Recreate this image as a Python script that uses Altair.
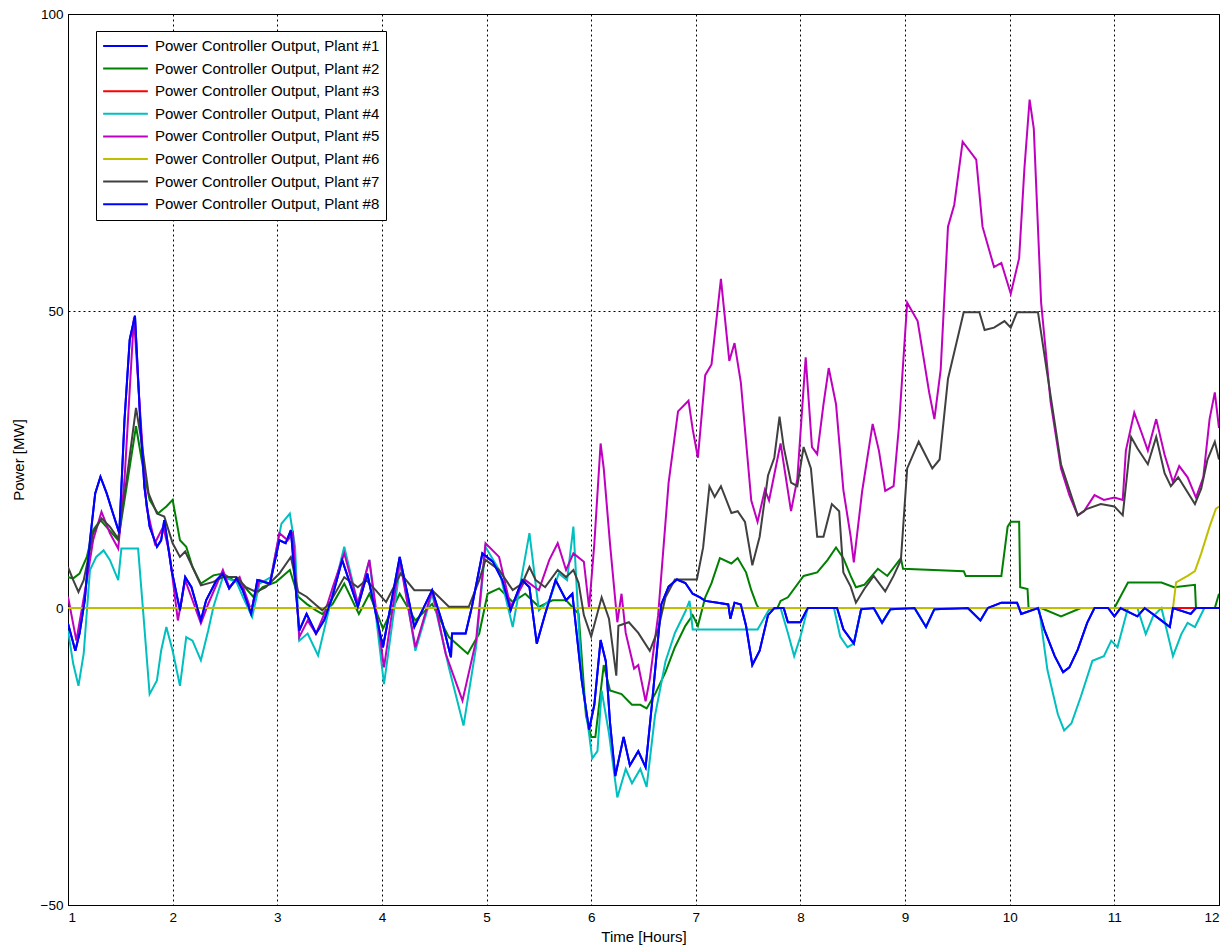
import altair as alt
import pandas as pd

# ---- data (hours, MW) ----
blue_t = [1.0, 1.07, 1.11, 1.16, 1.21, 1.26, 1.31, 1.37, 1.43, 1.49, 1.54, 1.59, 1.64, 1.69, 1.73, 1.78, 1.85, 1.89, 1.92, 1.99,
          2.07, 2.12, 2.18, 2.27, 2.32, 2.42, 2.48, 2.54, 2.61, 2.67, 2.75, 2.81, 2.93, 3.02, 3.08, 3.13, 3.21, 3.28, 3.37, 3.45,
          3.52, 3.62, 3.77, 3.86, 4.01, 4.17, 4.31, 4.48, 4.58, 4.66, 4.67, 4.80, 4.86, 4.96, 5.06, 5.15, 5.23, 5.34, 5.41, 5.48,
          5.56, 5.66, 5.76, 5.82, 5.91, 5.98, 6.03, 6.09, 6.14, 6.18, 6.23, 6.31, 6.37, 6.45, 6.52, 6.58, 6.67, 6.74, 6.82, 6.90,
          6.97, 7.04, 7.09, 7.21, 7.31, 7.33, 7.37, 7.43, 7.48, 7.54, 7.61, 7.69, 7.75, 7.84, 7.88, 8.00, 8.07, 8.35, 8.41, 8.51,
          8.58, 8.70, 8.78, 8.86, 9.09, 9.20, 9.28, 9.60, 9.72, 9.79, 9.92, 10.07, 10.11, 10.27, 10.33, 10.43, 10.51, 10.57, 10.65,
          10.74, 10.81, 10.94, 11.00, 11.06, 11.22, 11.29, 11.48, 11.53, 11.56, 11.73, 11.78, 12.0]
blue_v = [-2.6, -7.2, -4.3, 1.3, 11.4, 19.3, 22.1, 19.3, 15.9, 12.6, 31.7, 45.2, 49.2, 31.7, 20.4, 13.7, 10.3, 11.4, 14.8, 6.4,
          -0.4, 5.2, 3.5, -2.1, 1.3, 4.7, 5.8, 3.3, 5.0, 3.0, -1.0, 4.7, 4.1, 11.4, 10.9, 13.1, -3.8, -1.0, -4.3, -2.0,
          1.5, 8.1, 0.2, 5.8, -6.6, 8.6, -3.2, 3.0, -2.6, -8.3, -4.3, -4.3, 0.2, 9.2, 7.8, 4.7, -0.4, 4.7, 3.5, -6.0,
          -1.0, 4.7, 1.3, 2.4, -12.2, -20.5, -16.3, -5.4, -9.0, -19.3, -28.3, -21.7, -26.5, -24.1, -26.8, -16.3, 0.6, 3.6, 4.8, 4.2,
          2.4, 1.8, 1.2, 0.9, 0.6, -1.8, 0.9, 0.6, -3.0, -9.6, -7.2, -1.2, 0.0, 0.0, -2.4, -2.4, 0.0, 0.0, -3.6, -6.0,
          -0.2, 0.0, -2.5, -0.2, 0.0, -3.2, -0.2, 0.0, -2.1, 0.0, 0.9, 0.9, -1.0, 0.0, -3.6, -8.1, -10.8, -10.0, -7.0,
          -2.5, 0.0, 0.0, -1.4, 0.0, -1.4, 0.0, -2.5, -3.2, 0.0, -1.0, 0.0, 0.0]

green_t = [1.0, 1.05, 1.11, 1.18, 1.24, 1.31, 1.38, 1.48, 1.56, 1.65, 1.72, 1.78, 1.86, 1.94, 2.00, 2.07, 2.13, 2.19, 2.27, 2.39,
           2.48, 2.58, 2.66, 2.77, 2.86, 2.99, 3.12, 3.20, 3.28, 3.37, 3.43, 3.53, 3.64, 3.78, 3.88, 4.01, 4.17, 4.32, 4.48, 4.64,
           4.82, 4.93, 5.01, 5.12, 5.25, 5.37, 5.50, 5.63, 5.76, 5.88, 5.95, 6.00, 6.04, 6.12, 6.18, 6.29, 6.39, 6.47, 6.53, 6.61,
           6.71, 6.80, 6.90, 6.97, 7.02, 7.09, 7.15, 7.23, 7.34, 7.40, 7.48, 7.53, 7.58, 7.60, 7.78, 7.81, 7.88, 8.03, 8.16, 8.26,
           8.34, 8.41, 8.48, 8.53, 8.61, 8.74, 8.83, 8.96, 8.98, 9.56, 9.58, 9.92, 9.98, 10.01, 10.09, 10.10, 10.17, 10.18, 10.30,
           10.49, 10.68, 11.00, 11.13, 11.45, 11.57, 11.77, 11.78, 11.96, 12.0]
green_v = [5.2, 5.0, 5.8, 8.6, 13.1, 14.8, 13.4, 11.4, 20.4, 30.6, 23.3, 18.2, 15.9, 17.1, 18.2, 11.4, 10.3, 6.9, 4.1, 5.5,
           5.8, 4.7, 4.1, 1.9, 3.5, 4.4, 6.4, 1.9, 0.7, -0.4, -1.0, 0.7, 4.1, -1.0, 2.4, -3.5, 2.4, -2.1, 0.7, -4.9,
           -7.7, -4.3, 2.4, 3.3, 1.0, 2.4, 0.2, 1.3, 1.3, -1.0, -18.1, -21.7, -21.7, -9.6, -13.9, -14.5, -16.3, -16.3, -16.9, -14.5,
           -10.8, -6.6, -3.0, -1.2, -3.0, 1.8, 4.2, 8.4, 7.5, 8.4, 6.0, 3.0, 0.6, 0.0, 0.0, 1.2, 1.8, 5.4, 6.0, 8.1,
           10.2, 8.4, 5.4, 3.5, 3.9, 6.6, 5.4, 8.4, 6.6, 6.2, 5.4, 5.4, 13.7, 14.5, 14.5, 3.5, 3.2, 0.0, 0.0,
           -1.4, 0.0, 0.0, 4.3, 4.3, 3.5, 3.9, 0.0, 0.0, 2.4]

red_t = [1.0, 12.0]
red_v = [0.0, 0.0]

cyan_t = [1.0, 1.05, 1.10, 1.15, 1.21, 1.27, 1.34, 1.40, 1.48, 1.51, 1.67, 1.72, 1.78, 1.85, 1.89, 1.94, 2.00, 2.07, 2.13, 2.19,
          2.27, 2.34, 2.39, 2.48, 2.61, 2.67, 2.76, 2.83, 2.94, 3.04, 3.12, 3.17, 3.21, 3.29, 3.39, 3.50, 3.64, 3.77, 3.88, 4.02,
          4.18, 4.32, 4.48, 4.64, 4.78, 4.90, 4.99, 5.12, 5.25, 5.41, 5.50, 5.60, 5.69, 5.77, 5.83, 5.91, 5.98, 6.01, 6.06, 6.10,
          6.17, 6.25, 6.33, 6.39, 6.47, 6.53, 6.61, 6.71, 6.80, 6.90, 6.94, 6.97, 7.59, 7.70, 7.81, 7.88, 7.94, 8.00, 8.07, 8.32,
          8.38, 8.45, 8.51, 8.58, 8.70, 8.78, 8.86, 9.09, 9.20, 9.28, 9.60, 9.72, 9.79, 10.28, 10.36, 10.46, 10.52, 10.59, 10.68,
          10.79, 10.90, 10.97, 11.03, 11.13, 11.22, 11.30, 11.37, 11.45, 11.56, 11.64, 11.70, 11.77, 11.86, 12.0]
cyan_v = [-3.8, -9.4, -13.1, -7.7, 6.4, 8.6, 9.7, 8.1, 4.7, 10.0, 10.0, -1.0, -14.5, -12.2, -7.2, -3.2, -7.2, -13.1, -4.9, -5.5,
          -8.8, -3.8, 0.2, 5.2, 4.4, 1.9, -1.5, 4.1, 5.2, 14.2, 15.9, 10.3, -5.5, -4.3, -8.0, 0.2, 10.3, 0.7, 8.1, -12.8,
          7.8, -7.2, 2.4, -10.0, -19.8, -6.6, 10.3, 6.4, -3.2, 12.6, -0.4, 1.3, 5.8, 4.7, 13.7, -12.2, -21.2, -25.3, -24.1, -13.9,
          -21.1, -31.9, -27.1, -29.5, -27.1, -30.1, -18.1, -9.0, -4.2, -0.6, 1.2, -3.6, -3.6, -0.3, 0.0, -4.2, -8.1, -4.8, 0.0, 0.0,
          -4.8, -6.6, -6.0, -0.2, 0.0, -2.5, -0.2, 0.0, -3.2, -0.2, 0.0, -2.1, 0.0, 0.0, -10.4, -17.9, -20.6, -19.4, -14.9,
          -8.9, -8.1, -5.5, -6.6, 0.0, 0.0, -4.4, -1.4, 0.0, -8.1, -4.4, -2.5, -3.2, 0.0, 0.0]

magenta_t = [1.0, 1.08, 1.18, 1.24, 1.32, 1.40, 1.48, 1.54, 1.63, 1.69, 1.75, 1.83, 1.91, 1.97, 2.05, 2.12, 2.19, 2.27, 2.34, 2.48,
             2.54, 2.64, 2.75, 2.83, 2.93, 3.02, 3.10, 3.15, 3.21, 3.29, 3.37, 3.45, 3.53, 3.64, 3.77, 3.88, 4.02, 4.17, 4.32, 4.48,
             4.61, 4.77, 4.90, 4.99, 5.12, 5.23, 5.37, 5.50, 5.60, 5.68, 5.76, 5.83, 5.93, 5.98, 6.03, 6.09, 6.12, 6.18, 6.25, 6.29,
             6.33, 6.41, 6.45, 6.52, 6.56, 6.64, 6.74, 6.83, 6.93, 6.97, 7.02, 7.09, 7.15, 7.24, 7.32, 7.37, 7.43, 7.53, 7.59, 7.66,
             7.70, 7.81, 7.91, 7.97, 8.05, 8.11, 8.16, 8.22, 8.27, 8.34, 8.41, 8.48, 8.51, 8.59, 8.69, 8.75, 8.81, 8.89, 8.94, 9.02,
             9.12, 9.23, 9.28, 9.34, 9.41, 9.47, 9.55, 9.68, 9.74, 9.85, 9.92, 10.01, 10.09, 10.14, 10.19, 10.23, 10.30, 10.39, 10.49,
             10.57, 10.65, 10.71, 10.81, 10.90, 11.00, 11.08, 11.11, 11.19, 11.26, 11.32, 11.40, 11.48, 11.56, 11.62, 11.70, 11.78,
             11.85, 11.91, 11.96, 12.0]
magenta_v = [1.9, -5.5, 4.7, 11.4, 16.2, 12.6, 10.0, 21.6, 48.9, 32.8, 17.1, 10.9, 13.7, 9.2, -2.1, 4.7, 1.3, -2.6, 0.7, 6.4,
             3.5, 5.2, -0.4, 4.7, 4.1, 12.6, 11.4, 12.6, -4.9, -2.1, -4.3, -1.0, 3.5, 9.2, 0.7, 8.1, -10.0, 8.1, -6.6, 3.0,
             -7.7, -15.6, -5.5, 10.9, 8.6, 0.2, 4.7, 3.0, 8.1, 10.9, 6.4, 9.2, 7.8, 0.0, 10.8, 27.7, 23.5, 10.8, -2.4, 2.4,
             -4.2, -10.2, -9.6, -15.7, -12.0, -1.2, 21.1, 33.1, 34.9, 30.1, 25.3, 39.2, 41.0, 55.4, 41.6, 44.6, 38.0, 18.1, 14.5, 19.9,
             18.1, 27.7, 16.3, 21.7, 42.2, 27.1, 25.9, 34.3, 40.4, 34.3, 19.9, 12.0, 7.7, 19.7, 31.0, 26.5, 19.7, 20.5, 30.3, 51.4,
             48.3, 36.3, 31.8, 40.1, 64.2, 67.9, 78.5, 75.5, 64.2, 57.4, 58.1, 52.9, 58.9, 73.9, 85.6, 80.7, 51.4, 34.8, 23.5,
             19.0, 15.6, 16.3, 19.0, 18.2, 18.6, 18.2, 26.5, 32.9, 29.5, 26.5, 31.8, 25.8, 21.2, 23.9, 22.0, 18.6,
             22.0, 31.8, 36.3, 30.3]

yellow_t = [1.0, 11.56, 11.59, 11.70, 11.77, 11.83, 11.91, 11.97, 12.0]
yellow_v = [0.0, 0.0, 4.3, 5.4, 6.2, 9.2, 13.7, 16.7, 17.1]

grey_t = [1.0, 1.05, 1.10, 1.15, 1.19, 1.24, 1.32, 1.40, 1.48, 1.56, 1.65, 1.70, 1.77, 1.85, 1.92, 2.00, 2.07, 2.12, 2.19, 2.27,
          2.39, 2.48, 2.61, 2.70, 2.80, 2.89, 3.02, 3.13, 3.20, 3.28, 3.37, 3.43, 3.50, 3.64, 3.77, 3.85, 3.94, 4.04, 4.18, 4.31,
          4.48, 4.64, 4.83, 4.93, 4.99, 5.12, 5.25, 5.34, 5.41, 5.47, 5.56, 5.68, 5.76, 5.83, 5.88, 5.93, 6.00, 6.10, 6.17, 6.24,
          6.26, 6.36, 6.45, 6.56, 6.64, 6.71, 6.80, 6.93, 7.01, 7.07, 7.13, 7.18, 7.24, 7.34, 7.40, 7.47, 7.54, 7.61, 7.69, 7.75,
          7.80, 7.84, 7.91, 7.97, 8.03, 8.10, 8.16, 8.22, 8.30, 8.37, 8.41, 8.48, 8.53, 8.61, 8.70, 8.81, 8.89, 8.96, 9.02, 9.13,
          9.26, 9.33, 9.41, 9.56, 9.71, 9.76, 9.85, 9.95, 10.01, 10.07, 10.27, 10.36, 10.49, 10.65, 10.74, 10.87, 11.00, 11.08,
          11.16, 11.22, 11.32, 11.40, 11.48, 11.54, 11.61, 11.77, 11.83, 11.89, 11.96, 12.0]
grey_v = [6.9, 4.7, 2.7, 4.7, 8.1, 12.6, 15.1, 13.7, 11.7, 21.6, 33.7, 28.3, 19.3, 15.9, 15.4, 10.9, 8.6, 9.5, 6.9, 3.8,
          4.4, 5.2, 5.2, 3.5, 2.7, 3.5, 5.8, 8.6, 2.7, 1.9, 0.5, -0.4, 0.8, 5.2, 3.5, 4.7, 3.0, 1.0, 5.8, 3.0,
          3.0, 0.2, 0.2, 4.7, 8.1, 6.4, 3.0, 4.1, 6.9, 4.7, 3.5, 6.4, 5.2, 6.4, 4.2, -1.2, -4.8, 1.8, -1.8, -11.4,
          -3.0, -2.4, -4.2, -7.2, -3.6, 1.8, 4.8, 4.8, 4.8, 10.2, 20.5, 18.7, 20.5, 16.0, 16.3, 14.5, 7.2, 12.0, 22.3, 25.3,
          32.2, 27.1, 21.1, 20.5, 27.1, 23.5, 12.0, 12.0, 17.5, 16.3, 6.0, 3.6, 0.9, 3.2, 5.4, 2.8, 5.4, 8.1, 23.5, 28.0,
          23.5, 25.0, 38.6, 49.8, 49.8, 46.8, 47.2, 48.3, 47.2, 49.8, 49.8, 39.3, 24.2, 15.6, 16.7, 17.5, 17.1, 15.6,
          28.8, 26.9, 24.2, 28.8, 22.7, 20.5, 22.0, 17.5, 20.1, 25.0, 28.0, 25.0]

plant_names = [f"Power Controller Output, Plant #{i}" for i in range(1, 9)]
plant_colors = ["#0000FF", "#008000", "#FF0000", "#00BFBF", "#BF00BF", "#BFBF00", "#404040", "#0000FF"]
series = [(blue_t, blue_v), (green_t, green_v), (red_t, red_v), (cyan_t, cyan_v),
          (magenta_t, magenta_v), (yellow_t, yellow_v), (grey_t, grey_v), (blue_t, blue_v)]

rows = []
for name, (ts, vs) in zip(plant_names, series):
    for t, v in zip(ts, vs):
        rows.append({"hour": t, "power": v, "plant": name})
df = pd.DataFrame(rows)

FONT = "Liberation Sans"

chart = alt.Chart(df).mark_line(strokeWidth=2, clip=True).encode(
    x=alt.X("hour:Q",
            scale=alt.Scale(domain=[1, 12], nice=False, zero=False),
            axis=alt.Axis(values=list(range(1, 13)), format="d", title="Time [Hours]",
                          titlePadding=6, labelPadding=5)),
    y=alt.Y("power:Q",
            scale=alt.Scale(domain=[-50, 100], nice=False),
            axis=alt.Axis(values=[-50, 0, 50, 100], title="Power [MW]",
                          titlePadding=14, labelPadding=5)),
    color=alt.Color("plant:N",
                    scale=alt.Scale(domain=plant_names, range=plant_colors),
                    legend=alt.Legend(title=None, orient="none", legendX=28, legendY=17,
                                      symbolType="stroke", symbolStrokeWidth=2, symbolSize=2000,
                                      labelFontSize=15, labelFont=FONT, labelColor="black",
                                      labelLimit=0, strokeColor="black", fillColor="white",
                                      padding=6, clipHeight=18, rowPadding=4.6, labelOffset=6)),
).properties(
    width=1151, height=891,
    autosize=alt.AutoSizeParams(type="none"),
    padding={"left": 60, "top": 6, "right": 1, "bottom": 40},
).configure_view(
    stroke="black", strokeWidth=1
).configure_axis(
    domainColor="black", ticks=False, grid=True, gridColor="black", gridDash=[2, 3],
    gridOpacity=1, gridWidth=1, labelColor="black", labelFont=FONT, labelFontSize=13.5,
    titleFont=FONT, titleFontSize=15, titleFontWeight="normal", titleColor="black",
)

chart.save("out.html", embed_options={"renderer": "svg", "actions": False})
